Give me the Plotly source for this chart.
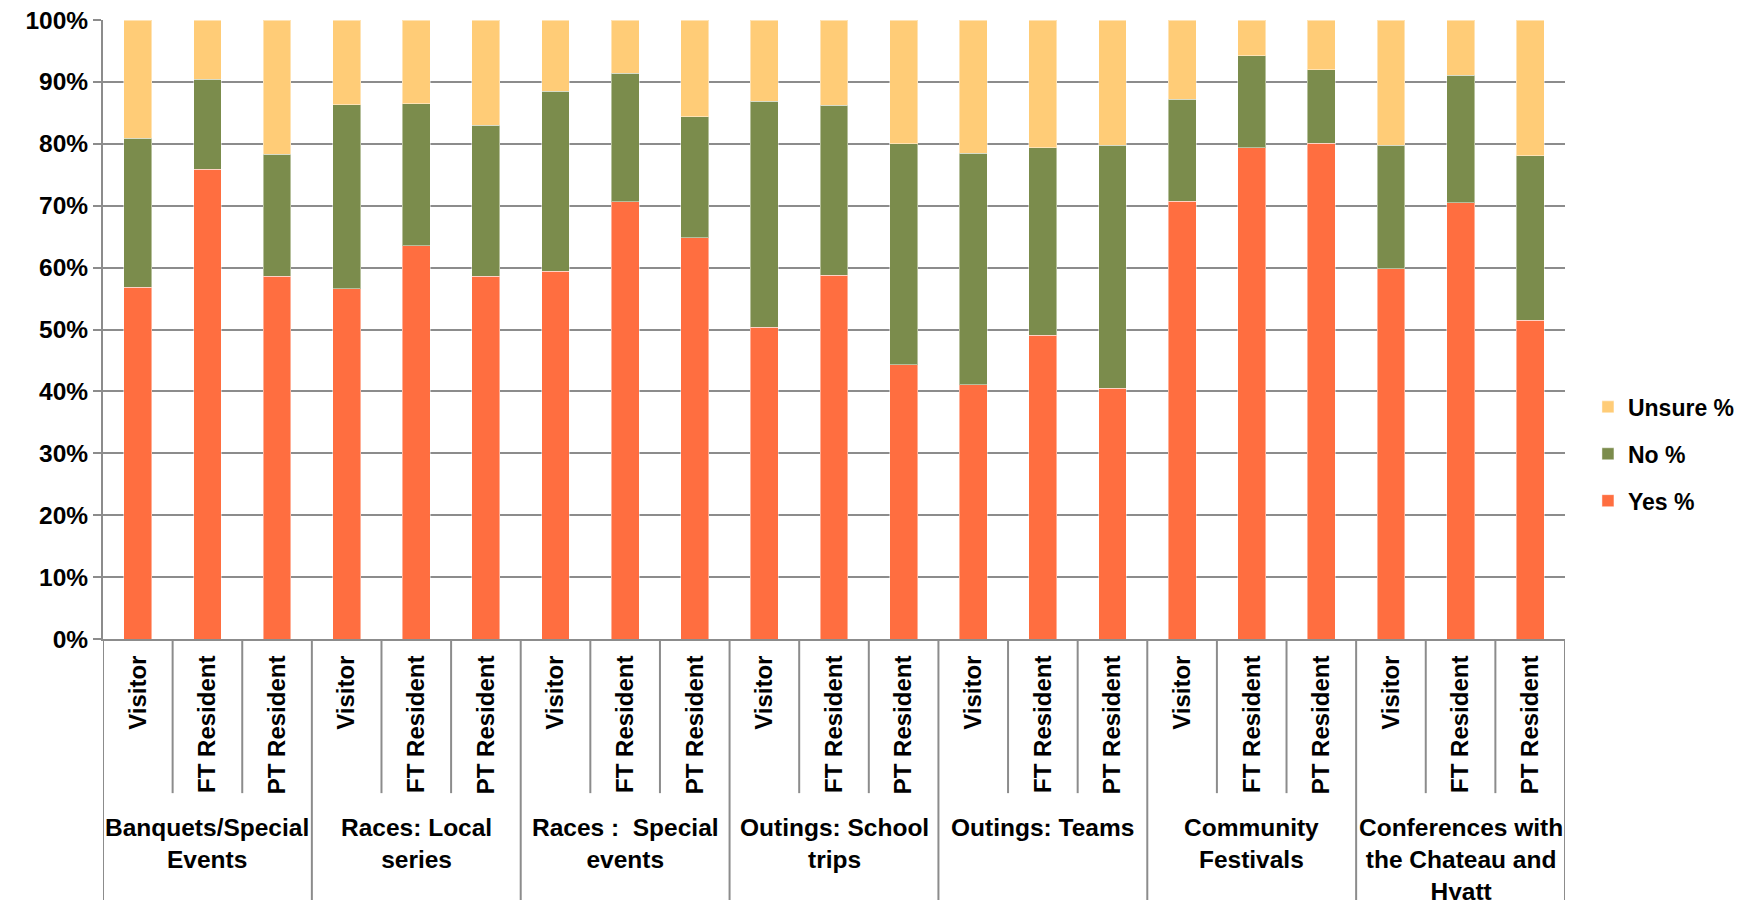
import plotly.graph_objects as go

groups = ["Banquets/Special<br>Events", "Races: Local<br>series", "Races :  Special<br>events",
          "Outings: School<br>trips", "Outings: Teams", "Community<br>Festivals",
          "Conferences with<br>the Chateau and<br>Hyatt"]
subgroups = ["Visitor", "FT Resident", "PT Resident"]

yes_pct = [56.8, 75.9, 58.6, 56.6, 63.5, 58.6, 59.4, 70.6, 64.8, 50.4, 58.8, 44.3,
           41.1, 49.1, 40.5, 70.7, 79.4, 80.1, 59.8, 70.5, 51.5]
no_pct = [24.1, 14.5, 19.7, 29.7, 23.0, 24.4, 29.1, 20.8, 19.6, 36.5, 27.4, 35.7,
          37.4, 30.3, 39.3, 16.5, 14.8, 11.9, 20.0, 20.6, 26.6]
unsure_pct = [19.1, 9.6, 21.7, 13.7, 13.5, 17.0, 11.5, 8.6, 15.6, 13.1, 13.8, 20.0,
              21.5, 20.6, 20.2, 12.8, 5.8, 8.0, 20.2, 8.9, 21.9]

y_ticks = [0, 10, 20, 30, 40, 50, 60, 70, 80, 90, 100]
y_tick_text = [f"{v}%" for v in y_ticks]

cat_labels = [s for g in groups for s in subgroups]
xs = list(range(len(cat_labels)))

FONT = "Liberation Sans"
GRID = "#8c8c8c"

fig = go.Figure()
series = [("Yes %", yes_pct, "#FF6E40", 3), ("No %", no_pct, "#7B8C4C", 2),
          ("Unsure %", unsure_pct, "#FFCC77", 1)]
for name, vals, col, rank in series:
    fig.add_trace(go.Bar(
        x=xs, y=vals, name=name, width=0.4, legendgroup=name, legendrank=rank,
        marker=dict(color=col, line=dict(color="rgba(255,255,255,0.45)", width=1)),
    ))

shapes = []
n = len(cat_labels)
for i in range(n + 1):
    boundary = (i % len(subgroups) == 0)
    shapes.append(dict(type="line", xref="x", yref="paper",
                       x0=i - 0.5, x1=i - 0.5, y0=0,
                       y1=-0.43 if boundary else -0.249,
                       line=dict(color=GRID, width=2)))

annotations = []
for gi, g in enumerate(groups):
    idx = xs[gi * len(subgroups):(gi + 1) * len(subgroups)]
    annotations.append(dict(x=sum(idx) / len(idx), xref="x", y=-0.279, yref="paper",
                            text=g, showarrow=False, yanchor="top", xanchor="center",
                            align="center",
                            font=dict(family=FONT, size=24.5, color="#000000", weight="bold")))

fig.update_layout(
    width=1747, height=900,
    margin=dict(l=95, r=190, t=12, b=269, autoexpand=False),
    barmode="stack",
    plot_bgcolor="white", paper_bgcolor="white",
    shapes=shapes, annotations=annotations,
    legend=dict(x=1.0157, xanchor="left", y=0.299, yanchor="middle",
                traceorder="grouped", tracegroupgap=14, itemwidth=30,
                font=dict(family=FONT, size=23, color="#000000", weight="bold")),
    xaxis=dict(range=[-0.5, n - 0.5], tickmode="array", tickvals=xs, ticktext=cat_labels,
               tickangle=-90, ticks="", showline=True, linecolor=GRID, linewidth=2,
               showgrid=False, zeroline=False, ticklabelstandoff=5, automargin=False,
               tickfont=dict(family=FONT, size=24, color="#000000", weight="bold")),
    yaxis=dict(range=[0, 100], tickmode="array", tickvals=y_ticks, ticktext=y_tick_text,
               showgrid=True, gridcolor=GRID, gridwidth=2, zeroline=False,
               showline=True, linecolor=GRID, linewidth=2, automargin=False,
               ticklabeloverflow="allow",
               ticks="outside", ticklen=8, tickcolor=GRID, tickwidth=2,
               tickfont=dict(family=FONT, size=24.5, color="#000000", weight="bold")),
    showlegend=True,
)

fig.write_html("out.html")
